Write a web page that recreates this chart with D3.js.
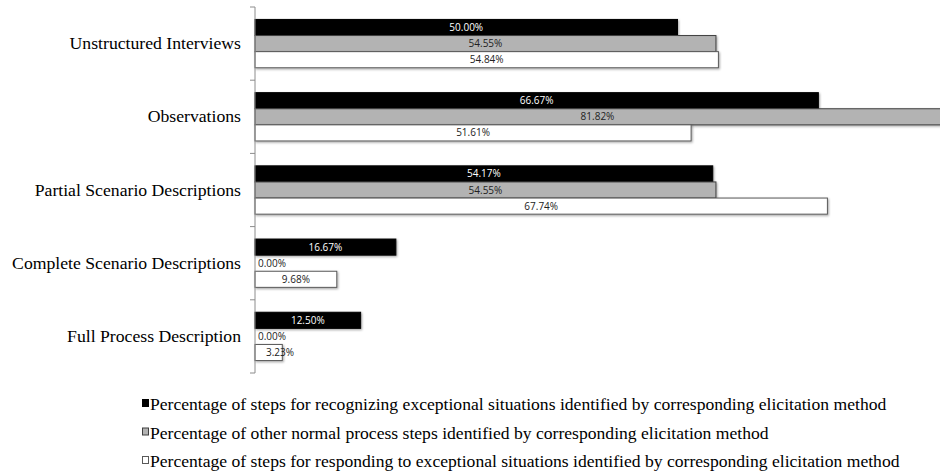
<html>
<script src='https://d3js.org/d3.v7.min.js'></script>
<style>
  body { margin:0; background:#fff; }
  .cat { font-family: "Liberation Serif", "Times New Roman", serif; font-size:17.7px; fill:#000; }
  .leg { font-family: "Liberation Serif", "Times New Roman", serif; font-size:17.6px; fill:#000; }
  .lbl { font-family: "Open Sans", "Liberation Sans", sans-serif; font-size:10px; }
</style>
<body onload='init()'>
<svg width=940 height=476></svg>
<script>
// categories (top to bottom)
var categories = ["Unstructured Interviews", "Observations", "Partial Scenario Descriptions",
                  "Complete Scenario Descriptions", "Full Process Description"];
// series values (fractions)
var recognizing = [0.5000, 0.6667, 0.5417, 0.1667, 0.1250];
var normal      = [0.5455, 0.8182, 0.5455, 0.0000, 0.0000];
var responding  = [0.5484, 0.5161, 0.6774, 0.0968, 0.0323];
var seriesNames = [
  "Percentage of steps for recognizing exceptional situations identified by corresponding elicitation method",
  "Percentage of other normal process steps identified by corresponding elicitation method",
  "Percentage of steps for responding to exceptional situations identified by corresponding elicitation method"
];

function init() {
    var svg = d3.select("svg");
    var x0 = 255, top = 7, bottom = 373;
    var fills = ["#000000", "#b3b3b3", "#ffffff"];
    var strokes = ["#000000", "#404040", "#595959"];
    var labelColors = ["#ffffff", "#222222", "#222222"];
    var series = [recognizing, normal, responding];

    var defs = svg.append("defs");
    var f = defs.append("filter").attr("id", "sh").attr("x", "-5%").attr("y", "-20%").attr("width", "115%").attr("height", "160%");
    f.append("feDropShadow").attr("dx", 1).attr("dy", 1.2).attr("stdDeviation", 0.9)
     .attr("flood-color", "#000").attr("flood-opacity", 0.35);

    // scales
    var xScale = d3.scaleLinear().domain([0, 1]).range([0, 845]);
    var yScale = d3.scaleBand().domain(categories).range([top, bottom]).paddingInner(0.34).paddingOuter(0.17);
    var ySub = d3.scaleBand().domain([0, 1, 2]).range([0, yScale.bandwidth()]);

    var g = svg.append("g").attr("transform", "translate(" + x0 + ",0)");

    var rows = [];
    categories.forEach(function(c, i) {
        series.forEach(function(s, k) { rows.push({cat: c, k: k, v: s[i]}); });
    });

    g.selectAll("rect.bar").data(rows.filter(function(d) { return d.v > 0; })).enter()
      .append("rect").attr("class", "bar")
      .attr("x", 0)
      .attr("y", function(d) { return yScale(d.cat) + ySub(d.k); })
      .attr("width", function(d) { return xScale(d.v); })
      .attr("height", ySub.bandwidth())
      .attr("fill", function(d) { return fills[d.k]; })
      .attr("stroke", function(d) { return strokes[d.k]; })
      .attr("stroke-width", 1)
      .attr("filter", "url(#sh)");

    var maxX = 940 - x0;
    g.selectAll("text.lbl").data(rows).enter()
      .append("text").attr("class", "lbl")
      .attr("y", function(d) { return yScale(d.cat) + ySub(d.k) + ySub.bandwidth() / 2; })
      .attr("dy", "0.35em")
      .attr("text-anchor", "middle")
      .attr("fill", function(d) { return labelColors[d.k]; })
      .text(function(d) { return d3.format(".2%")(d.v); })
      .attr("x", function(d) {
          var c = Math.min(xScale(d.v), maxX) / 2;
          var hw = this.getComputedTextLength() / 2;
          return Math.max(c, hw + 3 + (d.v > 0 ? 8 : 0));
      });

    // category axis
    var axis = d3.axisLeft(yScale).tickSize(0).tickPadding(14);
    var ag = svg.append("g").attr("transform", "translate(" + x0 + ",0)").call(axis);
    ag.select(".domain").attr("stroke", "#8c8c8c").attr("d", "M0," + top + "V" + bottom);
    ag.selectAll("text").attr("class", "cat").attr("font-family", null).attr("font-size", null);
    // boundary ticks
    var bounds = categories.map(function(c) { return yScale(c) - yScale.step() * yScale.paddingInner() / 2; });
    bounds.push(bottom);
    ag.selectAll("line.bnd").data(bounds).enter().append("line").attr("class", "bnd")
      .attr("x1", -5).attr("x2", 0).attr("y1", function(d) { return d; }).attr("y2", function(d) { return d; })
      .attr("stroke", "#8c8c8c");

    // legend
    var lg = svg.append("g");
    seriesNames.forEach(function(n, k) {
        var yy = 405 + k * 28.5;
        lg.append("rect").attr("x", 142.5).attr("y", yy - 5.5).attr("width", 6).attr("height", 7)
          .attr("fill", fills[k]).attr("stroke", strokes[k]).attr("stroke-width", 1);
        lg.append("text").attr("class", "leg").attr("x", 150).attr("y", yy).attr("dy", "0.3em").text(n);
    });
}
</script>
</body>
</html>
